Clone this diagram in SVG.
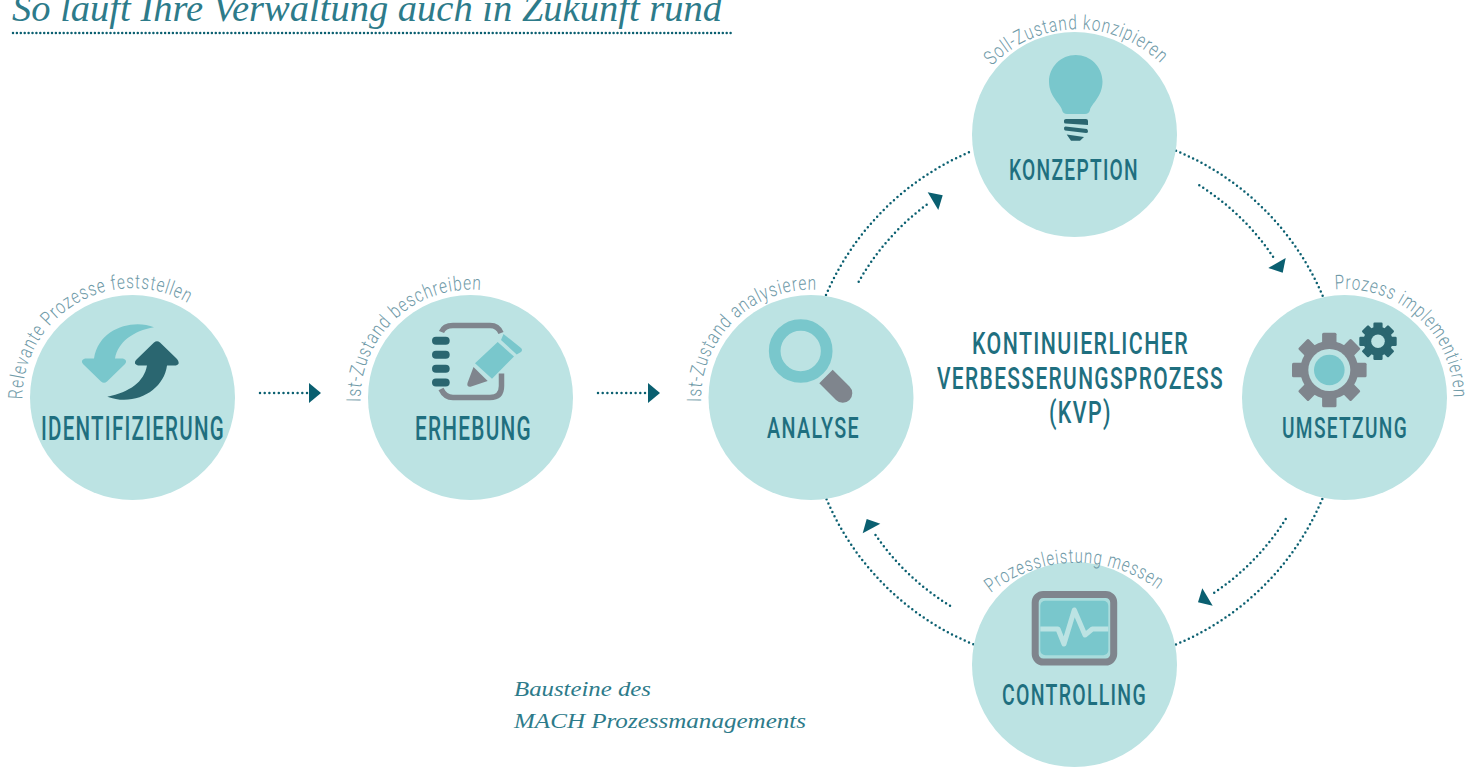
<svg xmlns="http://www.w3.org/2000/svg" xmlns:xlink="http://www.w3.org/1999/xlink" width="1480" height="767" viewBox="0 0 1480 767">
<style>
.c{fill:#bce3e3}
.n{font-family:"Roboto","Liberation Sans",sans-serif;font-weight:500;letter-spacing:2px;fill:#1f6f7f}
.a{font-family:"Roboto","Liberation Sans",sans-serif;font-weight:300;font-size:20px;letter-spacing:1.2px;fill:#6f9aa8}
.s{font-family:"Liberation Serif",serif;font-style:italic;fill:#2d7b8a}
.d{fill:none;stroke:#0a5f70;stroke-width:2.5;stroke-linecap:round;stroke-dasharray:0 4.7}
.h{fill:#0a5f70}
.lt{fill:#79c7cc}
.dk{fill:#2a6670}
.gr{fill:#7f858d}
</style>
<defs>
<path id="p1" d="M22.5,399 A110,110 0 0 1 242.5,397.5"/>
<path id="p2" d="M360.5,402 A110,110 0 0 1 580.5,397.5"/>
<path id="p3" d="M701,402 A110,110 0 0 1 921,397.5"/>
<path id="p4" d="M992,66 A118,118 0 0 1 1163,66"/>
<path id="p5" d="M1335,289.5 A109,109 0 0 1 1453.5,402"/>
<path id="p6" d="M991,593 A136,136 0 0 1 1162,593"/>
<g id="gt"><rect x="-7.2" y="-37.3" width="14.4" height="12" rx="1.5"/></g>
<g id="gt2"><rect x="-4.6" y="-18.7" width="9.2" height="7" rx="1.2"/></g>
</defs>
<g id="title">
<text class="s" x="12" y="21" font-size="37" textLength="710" lengthAdjust="spacingAndGlyphs">So lauft Ihre Verwaltung auch in Zukunft rund</text>
<line x1="13" y1="33" x2="732" y2="33" class="d" style="stroke-dasharray:0 3.9"/>
</g>
<g id="connectors">
<line class="d" x1="260" y1="393" x2="307" y2="393"/><path class="h" d="M309,383 L321,393 L309,403Z"/>
<line class="d" x1="598" y1="393" x2="646" y2="393"/><path class="h" d="M648,383 L660,393 L648,403Z"/>
<path class="d" d="M826,295 A272,272 0 0 1 972,151"/>
<path class="d" d="M858.7,281.7 A248,248 0 0 1 929.3,202.7"/>
<path class="h" d="M927.7,192.3 L942.7,195.3 L938.3,210Z"/>
<path class="d" d="M1176,150.7 A272,272 0 0 1 1322.7,296"/>
<path class="d" d="M1199.3,185.3 A248,248 0 0 1 1274.7,259.3"/>
<path class="h" d="M1285.7,258 L1268.3,268 L1282.7,272.7Z"/>
<path class="d" d="M1322.3,499 A272,272 0 0 1 1175.3,644.7"/>
<path class="d" d="M1285.7,519 A248,248 0 0 1 1211.3,594.7"/>
<path class="h" d="M1202.3,588.3 L1198,602.3 L1212.7,605.7Z"/>
<path class="d" d="M973.3,644.3 A272,272 0 0 1 826,498"/>
<path class="d" d="M950,605.7 A248,248 0 0 1 873.3,531.7"/>
<path class="h" d="M866.7,519 L880.3,523.7 L862.7,533.3Z"/>
</g>
<g id="identifizierung">
<circle class="c" cx="132.5" cy="397.5" r="102.5"/>
<path class="lt" d="M154,327.3 C133,319 99,328 94,358.5 L85,358.5 Q80,360 83,364 L101,381.5 Q104,384 107,381.5 L125,364 Q128,360 123,358.5 L115,358.5 C118,342 133,331 154,327.3Z"/>
<path class="dk" d="M107.3,396.7 C130,392 144,382 147,365.5 L138,365.5 Q133,364 136,360 L154,342.5 Q157,340 160,342.5 L177,359 Q181,364 176,365.5 L167,365.5 C164,390 135,407 107.3,396.7Z"/>
<text class="n" x="41" y="440" font-size="33" textLength="184" lengthAdjust="spacingAndGlyphs">IDENTIFIZIERUNG</text>
<text class="a"><textPath xlink:href="#p1" href="#p1" textLength="232" lengthAdjust="spacingAndGlyphs">Relevante Prozesse feststellen</textPath></text>
</g>
<g id="erhebung">
<circle class="c" cx="470.5" cy="397.5" r="102.5"/>
<path fill="none" stroke="#7f858d" stroke-width="5.5" d="M441.5,332 Q444,325.5 453,325.5 L490,325.5 Q498,325.5 501,333 M441,389 Q445,397.5 453,397.5 L490,397.5 Q501.5,397.5 501.5,386 L501.5,373.5"/>
<g class="dk"><rect x="432" y="336.7" width="17.7" height="8" rx="4"/><rect x="432" y="350.7" width="17.7" height="8" rx="4"/><rect x="432" y="364.7" width="17.7" height="8" rx="4"/><rect x="432" y="378.5" width="17.7" height="8" rx="4"/></g>
<path class="lt" d="M497.7,342 L514,356.5 L492,378.7 L475,363.3Z M503.5,334 L521,348 Q523,350 521,352 L516.7,354.5 L501,340Z"/>
<path class="gr" d="M473.5,367 L487.7,381 L470.5,386.7 Q466.5,387 467.5,383Z"/>
<text class="n" x="415" y="440" font-size="33" textLength="117" lengthAdjust="spacingAndGlyphs">ERHEBUNG</text>
<text class="a"><textPath xlink:href="#p2" href="#p2" textLength="186" lengthAdjust="spacingAndGlyphs">Ist-Zustand beschreiben</textPath></text>
</g>
<g id="analyse">
<circle class="c" cx="811" cy="397.5" r="102.5"/>
<circle cx="800.7" cy="351" r="26" fill="none" stroke="#79c7cc" stroke-width="11.7"/>
<path class="gr" d="M832.7,369.7 L849.5,386.5 A9.5,9.5 0 0 1 836,400 L819.3,383.3Z"/>
<text class="n" x="767" y="438" font-size="29" textLength="93" lengthAdjust="spacingAndGlyphs">ANALYSE</text>
<text class="a"><textPath xlink:href="#p3" href="#p3" textLength="181" lengthAdjust="spacingAndGlyphs">Ist-Zustand analysieren</textPath></text>
</g>
<g id="konzeption">
<circle class="c" cx="1074.5" cy="134.5" r="102.5"/>
<path class="lt" d="M1075.7,55 C1061,55 1049,67 1049,81.5 C1049,97 1061,104 1062,110 Q1063,114 1067,114 L1085,114 Q1089,114 1090,110 C1091,104 1102.5,97 1102.5,81.5 C1102.5,67 1090.5,55 1075.7,55Z"/>
<path class="dk" d="M1064,120.5 Q1064,119 1066,119 L1086,119 Q1088,119 1088,121 L1088,125 L1065.5,123.5 Q1064,123.5 1064,122Z M1065.5,126.5 L1087,129 Q1088,130 1088,131.5 Q1088,133 1086,133 L1065,130.5 Q1064,130 1064,128 Q1064,126.5 1065.5,126.5Z M1066.7,134.5 L1084,137 L1080,140.7 L1071,140.7Z"/>
<text class="n" x="1009" y="180" font-size="30" textLength="130" lengthAdjust="spacingAndGlyphs">KONZEPTION</text>
<text class="a"><textPath xlink:href="#p4" href="#p4" textLength="188" lengthAdjust="spacingAndGlyphs">Soll-Zustand konzipieren</textPath></text>
</g>
<g id="umsetzung">
<circle class="c" cx="1344.5" cy="397.5" r="102.5"/>
<g class="gr" transform="translate(1329.3,370)">
<circle r="29"/>
<use xlink:href="#gt" href="#gt"/><use xlink:href="#gt" href="#gt" transform="rotate(45)"/><use xlink:href="#gt" href="#gt" transform="rotate(90)"/><use xlink:href="#gt" href="#gt" transform="rotate(135)"/><use xlink:href="#gt" href="#gt" transform="rotate(180)"/><use xlink:href="#gt" href="#gt" transform="rotate(225)"/><use xlink:href="#gt" href="#gt" transform="rotate(270)"/><use xlink:href="#gt" href="#gt" transform="rotate(315)"/>
</g>
<circle cx="1329.3" cy="370" r="21" class="c"/>
<circle cx="1329.3" cy="370" r="15.3" class="lt"/>
<g class="dk" transform="translate(1378,341.3)">
<circle r="14.5"/>
<use xlink:href="#gt2" href="#gt2"/><use xlink:href="#gt2" href="#gt2" transform="rotate(45)"/><use xlink:href="#gt2" href="#gt2" transform="rotate(90)"/><use xlink:href="#gt2" href="#gt2" transform="rotate(135)"/><use xlink:href="#gt2" href="#gt2" transform="rotate(180)"/><use xlink:href="#gt2" href="#gt2" transform="rotate(225)"/><use xlink:href="#gt2" href="#gt2" transform="rotate(270)"/><use xlink:href="#gt2" href="#gt2" transform="rotate(315)"/>
</g>
<circle cx="1378" cy="341.3" r="6.8" class="c"/>
<text class="n" x="1282" y="438" font-size="29" textLength="126" lengthAdjust="spacingAndGlyphs">UMSETZUNG</text>
<text class="a"><textPath xlink:href="#p5" href="#p5" textLength="181" lengthAdjust="spacingAndGlyphs">Prozess implementieren</textPath></text>
</g>
<g id="controlling">
<circle class="c" cx="1074.5" cy="664.5" r="102.5"/>
<rect x="1035.2" y="594.5" width="78.5" height="67.5" rx="8" fill="#a9dcdc" stroke="#7f858d" stroke-width="7"/>
<rect class="lt" x="1040.3" y="600.7" width="68" height="54.6" rx="5"/>
<path fill="none" stroke="#bce3e3" stroke-width="5" stroke-linejoin="round" d="M1040.3,629 L1058,629 L1064,644 L1074.3,610 L1085,635 L1092.3,629 L1108.3,629"/>
<text class="n" x="1002" y="705" font-size="30" textLength="145" lengthAdjust="spacingAndGlyphs">CONTROLLING</text>
<text class="a"><textPath xlink:href="#p6" href="#p6" textLength="180" lengthAdjust="spacingAndGlyphs">Prozessleistung messen</textPath></text>
</g>
<g id="kvp">
<text class="n" x="972" y="354" font-size="31" textLength="217" lengthAdjust="spacingAndGlyphs">KONTINUIERLICHER</text>
<text class="n" x="937" y="389" font-size="31" textLength="287" lengthAdjust="spacingAndGlyphs">VERBESSERUNGSPROZESS</text>
<text class="n" x="1049" y="423" font-size="31" textLength="63" lengthAdjust="spacingAndGlyphs">(KVP)</text>
</g>
<g id="caption">
<text class="s" x="514" y="696" font-size="20" textLength="137" lengthAdjust="spacingAndGlyphs">Bausteine des</text>
<text class="s" x="514" y="728" font-size="20" textLength="292" lengthAdjust="spacingAndGlyphs">MACH Prozessmanagements</text>
</g>
</svg>
